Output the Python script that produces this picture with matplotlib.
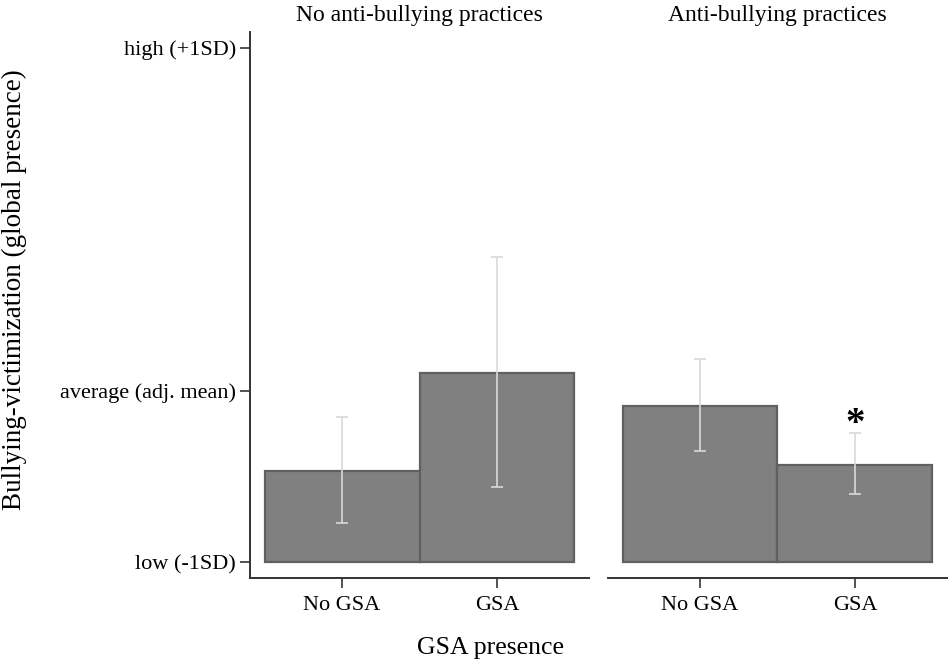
import matplotlib
matplotlib.use("Agg")
import matplotlib.pyplot as plt
import numpy as np

plt.rcParams['font.family'] = ['Liberation Serif', 'DejaVu Serif']

# data (y in units where low = -1, average = 0, high = 2 on the drawn axis)
categories = ["No GSA", "GSA"]
panels = ["No anti-bullying practices", "Anti-bullying practices"]
means = [[-0.467, 0.105], [-0.089, -0.434]]
ci_low = [[-0.772, -0.560], [-0.352, -0.603]]
ci_high = [[-0.154, 0.782], [0.185, -0.247]]
ytick_vals = [-1, 0, 2]
ytick_labels = ["low (-1SD)", "average (adj. mean)", "high (+1SD)"]
base = -1

W, H = 950, 662
fig = plt.figure(figsize=(W / 100, H / 100), dpi=100)
ax1 = fig.add_axes([0.2632, 0.1269, 0.3568, 0.8248])
ax2 = fig.add_axes([0.64, 0.1269, 0.3568, 0.8248])

x = np.arange(len(categories))
for i, ax in enumerate([ax1, ax2]):
    m = np.array(means[i])
    lo = np.array(ci_low[i])
    hi = np.array(ci_high[i])
    ax.bar(x, m - base, bottom=base, width=1.0, color="#808080",
           edgecolor="#606060", linewidth=1.6, zorder=2)
    ax.errorbar(x, m, yerr=[m - lo, hi - m], fmt="none", ecolor="#d9d9d9",
                elinewidth=1.2, capsize=4.3, capthick=1.2, zorder=3)
    ax.set_xlim(-0.594, 1.594)
    ax.set_ylim(-1.093, 2.094)
    ax.set_xticks(x)
    ax.set_xticklabels(categories, fontsize=16)
    ax.tick_params(axis="x", length=7, width=1.2, color="#333333", pad=6)
    for s in ["top", "right"]:
        ax.spines[s].set_visible(False)
    ax.spines["bottom"].set_color("#333333")
    ax.spines["bottom"].set_linewidth(1.4)
    # panel title centred over each panel
    bb = ax.get_position()
    fig.text((bb.x0 + bb.x1) / 2, 1 - 15 / H, panels[i], fontsize=17,
             ha="center", va="center")

ax1.set_yticks(ytick_vals)
ax1.set_yticklabels(ytick_labels, fontsize=16)
ax1.tick_params(axis="y", length=7, width=1.2, color="#333333", pad=3)
ax1.spines["left"].set_color("#333333")
ax1.spines["left"].set_linewidth(1.4)

ax2.spines["left"].set_visible(False)
ax2.set_yticks([])

fig.text(14 / W, 1 - 290 / H, "Bullying-victimization (global presence)",
         fontsize=19.5, rotation=90, ha="center", va="center")
fig.text(490 / W, 1 - 648 / H, "GSA presence", fontsize=18.5,
         ha="center", va="center")

ax2.text(1, -0.195, "*", ha="center", va="center", fontsize=28,
         fontweight="bold")

fig.savefig("out.png", dpi=100)
